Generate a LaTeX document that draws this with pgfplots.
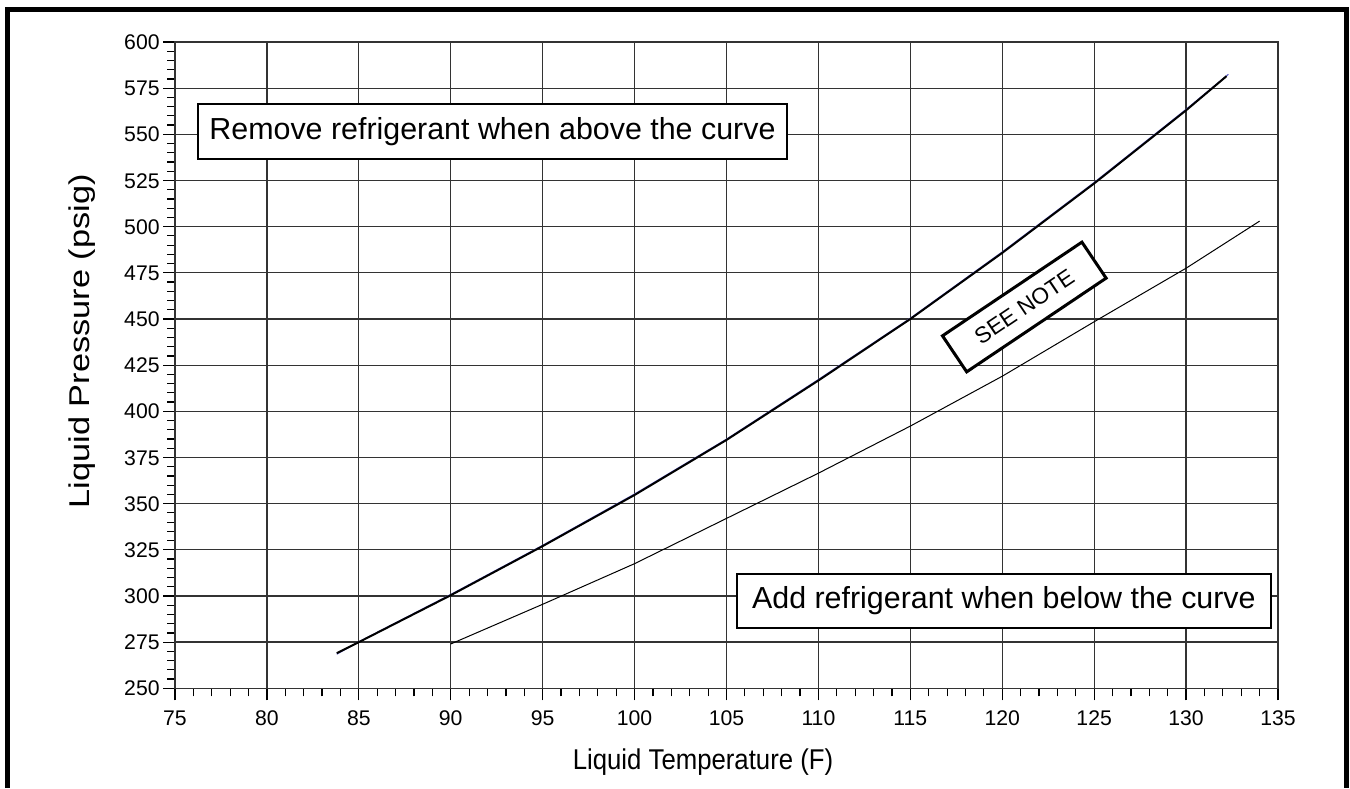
\documentclass[border=0pt]{standalone}
\usepackage{fontspec}
\setmainfont{Liberation Sans}
\newfontfamily\xlabfont[FakeStretch=0.9]{Liberation Sans}
\newfontfamily\ylabfont[FakeStretch=1.2]{Liberation Sans}
\usepackage{pgfplots}
\pgfplotsset{compat=1.18}
\definecolor{faintblue}{RGB}{100,100,200}
\begin{document}
\begin{tikzpicture}
\useasboundingbox (0,0) rectangle (675pt,394pt);
\draw[line width=2.5pt, line join=miter] (3.75pt,0) -- (3.75pt,389.25pt) -- (673.25pt,389.25pt) -- (673.25pt,0);
\begin{axis}[
  at={(87.5pt,49.85pt)}, anchor=south west,
  scale only axis, width=551.5pt, height=323.15pt,
  xmin=75, xmax=135, ymin=250, ymax=600,
  xtick={75,80,...,135}, ytick={250,275,...,600},
  minor x tick num=4, minor y tick num=4,
  tick pos=left, tick align=outside,
  major tick length=6pt, minor tick length=4pt,
  every tick/.style={black, line width=0.6pt},
  grid=major, major grid style={black!80, line width=0.65pt},
  axis line style={black!80, line width=0.65pt},
  /pgf/number format/assume math mode=true,
  tick label style={font=\fontsize{10.6}{12}\selectfont, text height=7.6pt, text depth=0pt},
  yticklabel style={inner xsep=1.5pt},
  xticklabel style={yshift=-1.5pt},
  xlabel={\xlabfont Liquid Temperature (F)}, ylabel={\ylabfont Liquid Pressure (psig)},
  label style={font=\fontsize{14.3}{17}\selectfont},
  xlabel style={at={(axis description cs:0.4787,-0.1253)}, anchor=base},
  ylabel style={at={(axis description cs:-0.0771,0.537)}, anchor=base},
]
\addplot[faintblue, line width=0.6pt] coordinates {
(83.8,268.5) (85,275.2) (90,300.8) (95,327.4) (100,355.2) (105,384.9) (110,417.2)
(115,450.4) (120,486.3) (125,523.9) (130,563.5) (132.3,582.5)};
\addplot[black, line width=1pt] coordinates {
(83.8,269) (85,275) (90,300.4) (95,327) (100,354.7) (105,384.5) (110,416.7)
(115,450) (120,485.8) (125,523.4) (130,563) (132.2,581.5)};
\addplot[black, line width=0.5pt] coordinates {
(90,274) (95,295.5) (100,317.5) (105,342) (110,366.5) (115,392) (120,419)
(125,448.5) (130,477.5) (134,503)};
\node[draw, fill=white, line width=1pt, minimum width=294.6pt, minimum height=27.2pt, inner sep=0pt,
  font=\fontsize{15.2}{18}\selectfont] at (axis cs:92.27,551.5) {Remove refrigerant when above the curve};
\node[draw, fill=white, line width=1pt, minimum width=266.9pt, minimum height=27.15pt, inner sep=0pt,
  font=\fontsize{15.2}{18}\selectfont] at (axis cs:120.09,297.3) {Add refrigerant when below the curve};
\node[draw, fill=white, line width=1.5pt, minimum width=84pt, minimum height=21.7pt, inner sep=0pt,
  rotate=33.9, font=\fontsize{11.3}{13}\selectfont] at (axis cs:121.2,456.5) {SEE NOTE};
\end{axis}
\end{tikzpicture}
\end{document}
